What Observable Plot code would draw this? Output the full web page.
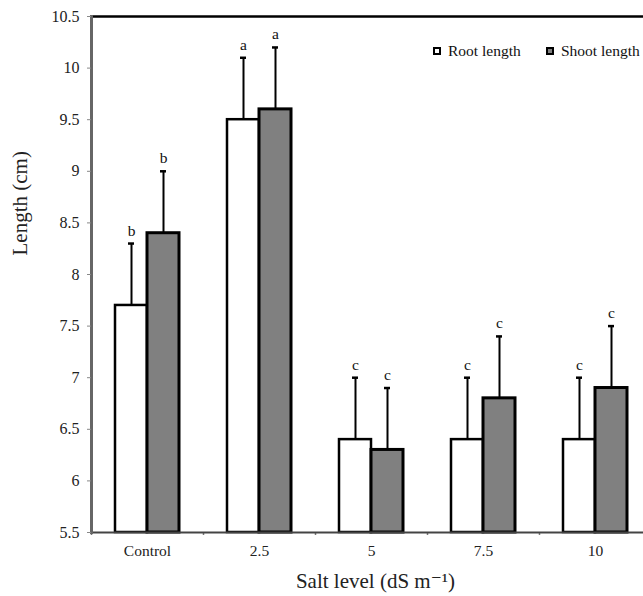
<!DOCTYPE html>
<html><head><meta charset="utf-8">
<script src="https://cdn.jsdelivr.net/npm/d3@7"></script>
<script src="https://cdn.jsdelivr.net/npm/@observablehq/plot@0.6"></script>
<style>
body{margin:0;overflow:hidden;background:#fff;font-family:"Liberation Serif","DejaVu Serif",serif;}
#wrap{position:relative;width:643px;height:596px;overflow:hidden;}
.lg{position:absolute;top:42px;font-family:"Liberation Serif",serif;font-size:15.5px;line-height:18px;color:#111;white-space:nowrap;}
.lg span.sw{display:inline-block;width:4px;height:4px;border:2.5px solid #000;vertical-align:1px;margin-right:7px;}
</style></head>
<body><div id="wrap">
<div class="lg" style="left:433px"><span class="sw" style="background:#fff"></span>Root length</div>
<div class="lg" style="left:546px"><span class="sw" style="background:#808080"></span>Shoot length</div>
</div>
<script>
const categories = ["Control", "2.5", "5", "7.5", "10"];
const rootLength = [7.7, 9.5, 6.4, 6.4, 6.4];
const shootLength = [8.4, 9.6, 6.3, 6.8, 6.9];
const rootError = [0.6, 0.6, 0.6, 0.6, 0.6];
const shootError = [0.6, 0.6, 0.6, 0.6, 0.6];
const rootLetters = ["b", "a", "c", "c", "c"];
const shootLetters = ["b", "a", "c", "c", "c"];
const yTicks = [5.5, 6, 6.5, 7, 7.5, 8, 8.5, 9, 9.5, 10, 10.5];

const root = categories.map((c, i) => ({cat: c, v: rootLength[i], top: rootLength[i] + rootError[i], l: rootLetters[i]}));
const shoot = categories.map((c, i) => ({cat: c, v: shootLength[i], top: shootLength[i] + shootError[i], l: shootLetters[i]}));
const serif = "'Liberation Serif', 'DejaVu Serif', serif";

const chart = Plot.plot({
  width: 655, height: 596,
  marginLeft: 91, marginRight: 4, marginTop: 16, marginBottom: 64,
  style: {fontFamily: serif, fontSize: "16px", color: "#222", background: "#fff", maxWidth: "none"},
  x: {domain: categories, padding: 0, label: null},
  y: {domain: [5.5, 10.5], label: null},
  marks: [
    Plot.ruleX(root, {x: "cat", dx: -16, y1: "v", y2: "top", stroke: "#000", strokeWidth: 2}),
    Plot.ruleX(shoot, {x: "cat", dx: 16, y1: "v", y2: "top", stroke: "#000", strokeWidth: 2}),
    Plot.tickY(root, {x: "cat", y: "top", insetLeft: 37, insetRight: 69, stroke: "#000", strokeWidth: 2.5}),
    Plot.tickY(shoot, {x: "cat", y: "top", insetLeft: 69, insetRight: 37, stroke: "#000", strokeWidth: 2.5}),
    Plot.barY(root, {x: "cat", y1: 5.5, y2: "v", insetLeft: 24, insetRight: 56, fill: "#fff", stroke: "#000", strokeWidth: 2.5}),
    Plot.barY(shoot, {x: "cat", y1: 5.5, y2: "v", insetLeft: 56, insetRight: 24, fill: "#808080", stroke: "#000", strokeWidth: 3}),
    Plot.text(root, {x: "cat", dx: -16, y: "top", dy: -8, lineAnchor: "bottom", text: "l", fontSize: 15.5, fontFamily: serif, fill: "#111"}),
    Plot.text(shoot, {x: "cat", dx: 16, y: "top", dy: -8, lineAnchor: "bottom", text: "l", fontSize: 15.5, fontFamily: serif, fill: "#111"}),
    Plot.ruleX(categories, {x: d => d, dx: -56, y1: 5.5, y2: 5.5, insetBottom: -3, stroke: "#777", strokeWidth: 1.5}),
    Plot.frame({anchor: "top", stroke: "#000", strokeWidth: 2.5}),
    Plot.frame({anchor: "right", stroke: "#000", strokeWidth: 2.5}),
    Plot.frame({anchor: "bottom", stroke: "#444", strokeWidth: 2}),
    Plot.frame({anchor: "left", stroke: "#666", strokeWidth: 3}),
    Plot.axisY({ticks: yTicks, tickFormat: d => String(d), tickSize: 4, stroke: "#888", tickPadding: 8, fontSize: 16, fontFamily: serif, label: null}),
    Plot.axisX({tickSize: 0, tickPadding: 12, fontSize: 15.5, fontFamily: serif, label: null}),
    Plot.text(["Length (cm)"], {frameAnchor: "left", dx: -71, dy: -19, rotate: -90, fontSize: 21, fontFamily: serif, fill: "#222"}),
    Plot.text(["Salt level (dS m\u207B\u00B9)"], {frameAnchor: "bottom", dx: 4, dy: 55, lineAnchor: "bottom", fontSize: 21, fontFamily: serif, fill: "#222"})
  ]
});
chart.style.display = "block";
chart.style.maxWidth = "none";
document.getElementById("wrap").prepend(chart);
</script></body></html>
